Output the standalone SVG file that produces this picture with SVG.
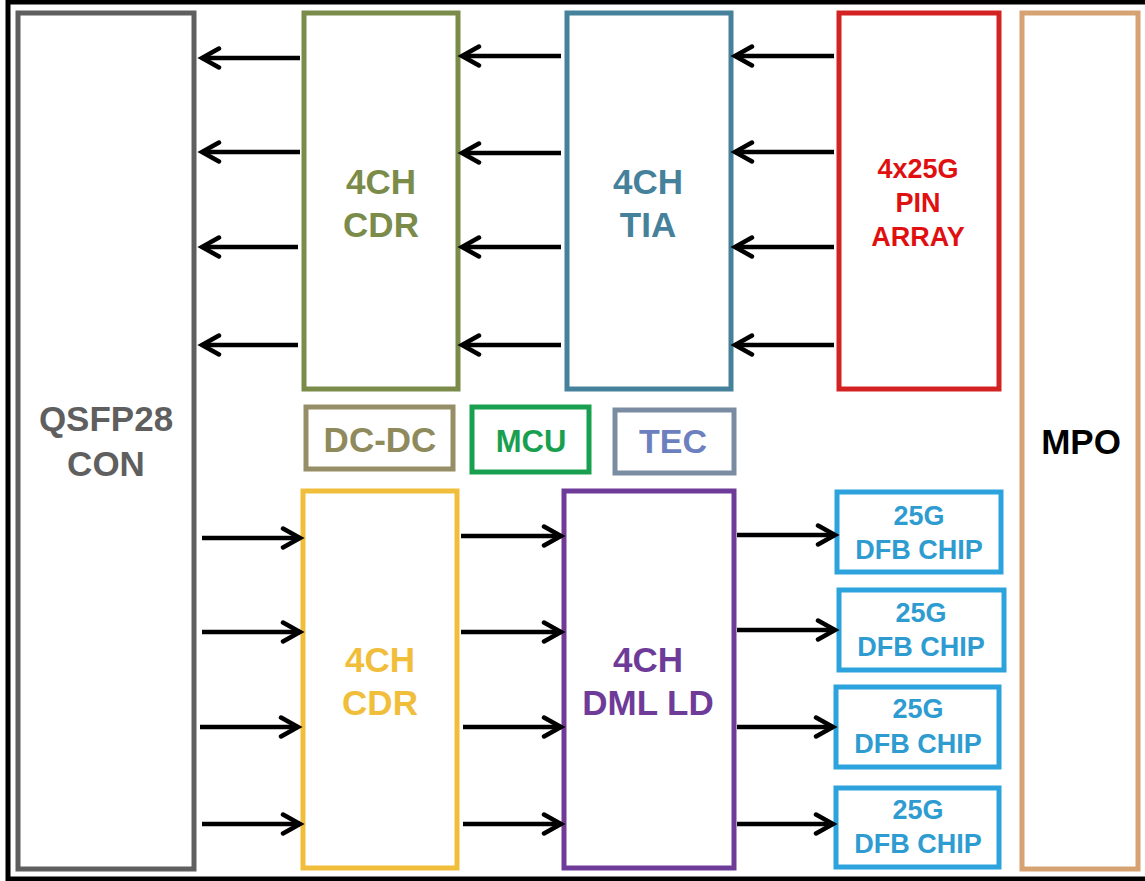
<svg xmlns="http://www.w3.org/2000/svg" width="1145" height="881" viewBox="0 0 1145 881">
<defs>
<style>
.box{fill:#fff;stroke-width:5}
.t{font-family:"Liberation Sans",Arial,sans-serif;font-weight:bold;text-anchor:middle}
.c{stroke:#000;stroke-width:4.5;fill:none}
</style>
<marker id="ah" markerUnits="userSpaceOnUse" markerWidth="30" markerHeight="30" refX="20" refY="12" orient="auto">
<path d="M3,2.5 L20,12 L3,21.5" fill="none" stroke="#000" stroke-width="4.5" stroke-linecap="round"/>
</marker>
</defs>
<rect x="0" y="0" width="1145" height="881" fill="#fff"/>
<rect x="8" y="2" width="1145" height="877" fill="none" stroke="#000" stroke-width="5"/>

<g id="qsfp">
<rect class="box" x="18" y="13" width="176" height="856" stroke="#5F5F5F"/>
<text class="t" x="106" y="431" font-size="35" fill="#5F5F5F">QSFP28</text>
<text class="t" x="106" y="476" font-size="35" fill="#5F5F5F">CON</text>
</g>
<g id="cdr-rx">
<rect class="box" x="304" y="13" width="154" height="376" stroke="#7A8B4A"/>
<text class="t" x="381" y="194" font-size="35" fill="#7A8B4A">4CH</text>
<text class="t" x="381" y="237" font-size="35" fill="#7A8B4A">CDR</text>
</g>
<g id="tia">
<rect class="box" x="567" y="13" width="164" height="376" stroke="#45819A"/>
<text class="t" x="648" y="194" font-size="35" fill="#45819A">4CH</text>
<text class="t" x="648" y="237" font-size="35" fill="#45819A">TIA</text>
</g>
<g id="pin">
<rect class="box" x="839" y="13" width="160" height="376" stroke="#D42222"/>
<text class="t" x="918" y="178" font-size="27" fill="#E01010">4x25G</text>
<text class="t" x="918" y="212" font-size="27" fill="#E01010">PIN</text>
<text class="t" x="918" y="246" font-size="27" fill="#E01010">ARRAY</text>
</g>
<g id="mpo">
<rect class="box" x="1022" y="13" width="116" height="856" stroke="#D6A272"/>
<text class="t" x="1081" y="454" font-size="35" fill="#000">MPO</text>
</g>
<g id="dcdc">
<rect class="box" x="306" y="407" width="147" height="62" stroke="#958E66"/>
<text class="t" x="380" y="452" font-size="35" fill="#8E8A5C">DC-DC</text>
</g>
<g id="mcu">
<rect class="box" x="472" y="407" width="117" height="65" stroke="#18A050"/>
<text class="t" x="531" y="452" font-size="31" fill="#18A050">MCU</text>
</g>
<g id="tec">
<rect class="box" x="615" y="410" width="119" height="63" stroke="#7A8CA2"/>
<text class="t" x="673" y="453" font-size="34" fill="#6C7FBE">TEC</text>
</g>
<g id="cdr-tx">
<rect class="box" x="303" y="491" width="154" height="377" stroke="#F0BE3A"/>
<text class="t" x="380" y="672" font-size="35" fill="#F0BE3A">4CH</text>
<text class="t" x="380" y="715" font-size="35" fill="#F0BE3A">CDR</text>
</g>
<g id="dml">
<rect class="box" x="564" y="491" width="170" height="377" stroke="#6E3C98"/>
<text class="t" x="648" y="672" font-size="35" fill="#6E3C98">4CH</text>
<text class="t" x="648" y="715" font-size="35" fill="#6E3C98">DML LD</text>
</g>
<g id="dfb1">
<rect class="box" x="837" y="492" width="164" height="80" stroke="#2CA3DC"/>
<text class="t" x="919" y="525" font-size="27" fill="#2E9CD0">25G</text>
<text class="t" x="919" y="559" font-size="27" fill="#2E9CD0">DFB CHIP</text>
</g>
<g id="dfb2">
<rect class="box" x="839" y="590" width="165" height="80" stroke="#2CA3DC"/>
<text class="t" x="921" y="622" font-size="27" fill="#2E9CD0">25G</text>
<text class="t" x="921" y="656" font-size="27" fill="#2E9CD0">DFB CHIP</text>
</g>
<g id="dfb3">
<rect class="box" x="836" y="687" width="163" height="80" stroke="#2CA3DC"/>
<text class="t" x="918" y="718" font-size="27" fill="#2E9CD0">25G</text>
<text class="t" x="918" y="753" font-size="27" fill="#2E9CD0">DFB CHIP</text>
</g>
<g id="dfb4">
<rect class="box" x="836" y="788" width="163" height="79" stroke="#2CA3DC"/>
<text class="t" x="918" y="819" font-size="27" fill="#2E9CD0">25G</text>
<text class="t" x="918" y="853" font-size="27" fill="#2E9CD0">DFB CHIP</text>
</g>

<g id="connectors">
<line class="c" x1="300" y1="58" x2="202" y2="58" marker-end="url(#ah)"/>
<line class="c" x1="300" y1="152" x2="202" y2="152" marker-end="url(#ah)"/>
<line class="c" x1="298" y1="247" x2="202" y2="247" marker-end="url(#ah)"/>
<line class="c" x1="298" y1="345" x2="202" y2="345" marker-end="url(#ah)"/>
<line class="c" x1="561" y1="56" x2="462" y2="56" marker-end="url(#ah)"/>
<line class="c" x1="561" y1="153" x2="462" y2="153" marker-end="url(#ah)"/>
<line class="c" x1="561" y1="247" x2="462" y2="247" marker-end="url(#ah)"/>
<line class="c" x1="561" y1="345" x2="462" y2="345" marker-end="url(#ah)"/>
<line class="c" x1="834" y1="56" x2="735" y2="56" marker-end="url(#ah)"/>
<line class="c" x1="834" y1="152" x2="735" y2="152" marker-end="url(#ah)"/>
<line class="c" x1="834" y1="247" x2="735" y2="247" marker-end="url(#ah)"/>
<line class="c" x1="834" y1="345" x2="735" y2="345" marker-end="url(#ah)"/>
<line class="c" x1="202" y1="538" x2="300" y2="538" marker-end="url(#ah)"/>
<line class="c" x1="202" y1="632" x2="300" y2="632" marker-end="url(#ah)"/>
<line class="c" x1="200" y1="727" x2="298" y2="727" marker-end="url(#ah)"/>
<line class="c" x1="202" y1="824" x2="300" y2="824" marker-end="url(#ah)"/>
<line class="c" x1="461" y1="536" x2="561" y2="536" marker-end="url(#ah)"/>
<line class="c" x1="461" y1="632" x2="561" y2="632" marker-end="url(#ah)"/>
<line class="c" x1="463" y1="727" x2="561" y2="727" marker-end="url(#ah)"/>
<line class="c" x1="463" y1="824" x2="561" y2="824" marker-end="url(#ah)"/>
<line class="c" x1="737" y1="535" x2="835" y2="535" marker-end="url(#ah)"/>
<line class="c" x1="737" y1="630" x2="835" y2="630" marker-end="url(#ah)"/>
<line class="c" x1="737" y1="727" x2="833" y2="727" marker-end="url(#ah)"/>
<line class="c" x1="737" y1="824" x2="833" y2="824" marker-end="url(#ah)"/>
</g>
</svg>
